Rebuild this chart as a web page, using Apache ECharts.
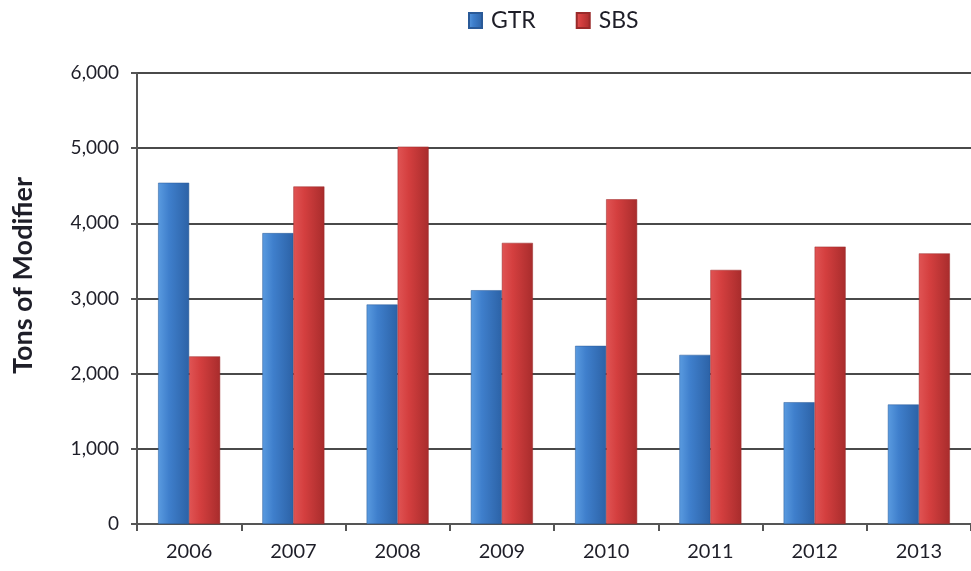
<!DOCTYPE html>
<html>
<head>
<meta charset="utf-8">
<script src="https://cdn.jsdelivr.net/npm/echarts@6/dist/echarts.min.js"></script>
<style>
  html, body { margin: 0; padding: 0; background: #fff; }
  #chart { width: 971px; height: 571px; }
</style>
</head>
<body>
<div id="chart"></div>
<script>
// years on the x axis
const years = ['2006', '2007', '2008', '2009', '2010', '2011', '2012', '2013'];
// tons of modifier per year
const gtrValues = [4540, 3870, 2920, 3110, 2370, 2250, 1620, 1590];
const sbsValues = [2230, 4490, 5020, 3740, 4320, 3380, 3690, 3600];

const chart = echarts.init(document.getElementById('chart'));

// left-to-right shading so bars look a bit rounded
function barFill(light, mid, dark) {
  return new echarts.graphic.LinearGradient(0, 0, 1, 0, [
    { offset: 0, color: light },
    { offset: 0.35, color: mid },
    { offset: 1, color: dark }
  ]);
}

chart.setOption({
  animation: false,
  textStyle: { fontFamily: 'Lato' },
  legend: {
    top: 4,
    left: 463,
    itemWidth: 13,
    itemHeight: 15,
    itemGap: 40,
    icon: 'rect',
    textStyle: { fontSize: 23, color: '#1e1e28', fontFamily: 'Lato', padding: [0, 0, 0, 4] },
    data: ['GTR', 'SBS']
  },
  grid: {
    left: 137,
    right: -9,
    top: 73,
    bottom: 47
  },
  xAxis: {
    type: 'category',
    data: years,
    axisLine: { lineStyle: { color: '#555', width: 2 } },
    axisTick: { show: true, length: 7, lineStyle: { color: '#555', width: 2 } },
    axisLabel: { fontSize: 20, color: '#1e1e28', margin: 18 }
  },
  yAxis: {
    type: 'value',
    min: 0,
    max: 6000,
    interval: 1000,
    name: 'Tons of Modifier',
    nameLocation: 'middle',
    nameGap: 100,
    nameRotate: 90,
    nameTextStyle: {
      fontSize: 27,
      fontWeight: 'bold',
      color: '#1e1e28',
      padding: [0, 0, 0, 46] // nudge the title up a bit
    },
    axisLine: { show: true, lineStyle: { color: '#555', width: 2 } },
    axisTick: { show: true, length: 6, lineStyle: { color: '#555', width: 2 } },
    axisLabel: {
      fontSize: 19,
      color: '#1e1e28',
      margin: 18,
      formatter: v => v.toLocaleString('en-US')
    },
    splitLine: { lineStyle: { color: '#4a4a4a', width: 2 } }
  },
  series: [
    {
      name: 'GTR',
      type: 'bar',
      data: gtrValues,
      barWidth: 31,
      barGap: '0%',
      itemStyle: {
        color: barFill('#5a9be0', '#3f7fcc', '#2c62a6'),
        borderColor: '#2a5a98',
        borderWidth: 0.5
      }
    },
    {
      name: 'SBS',
      type: 'bar',
      data: sbsValues,
      barWidth: 31,
      itemStyle: {
        color: barFill('#e05454', '#d43f3f', '#a82c2c'),
        borderColor: '#9a2a2a',
        borderWidth: 0.5
      }
    }
  ]
});
</script>
</body>
</html>
